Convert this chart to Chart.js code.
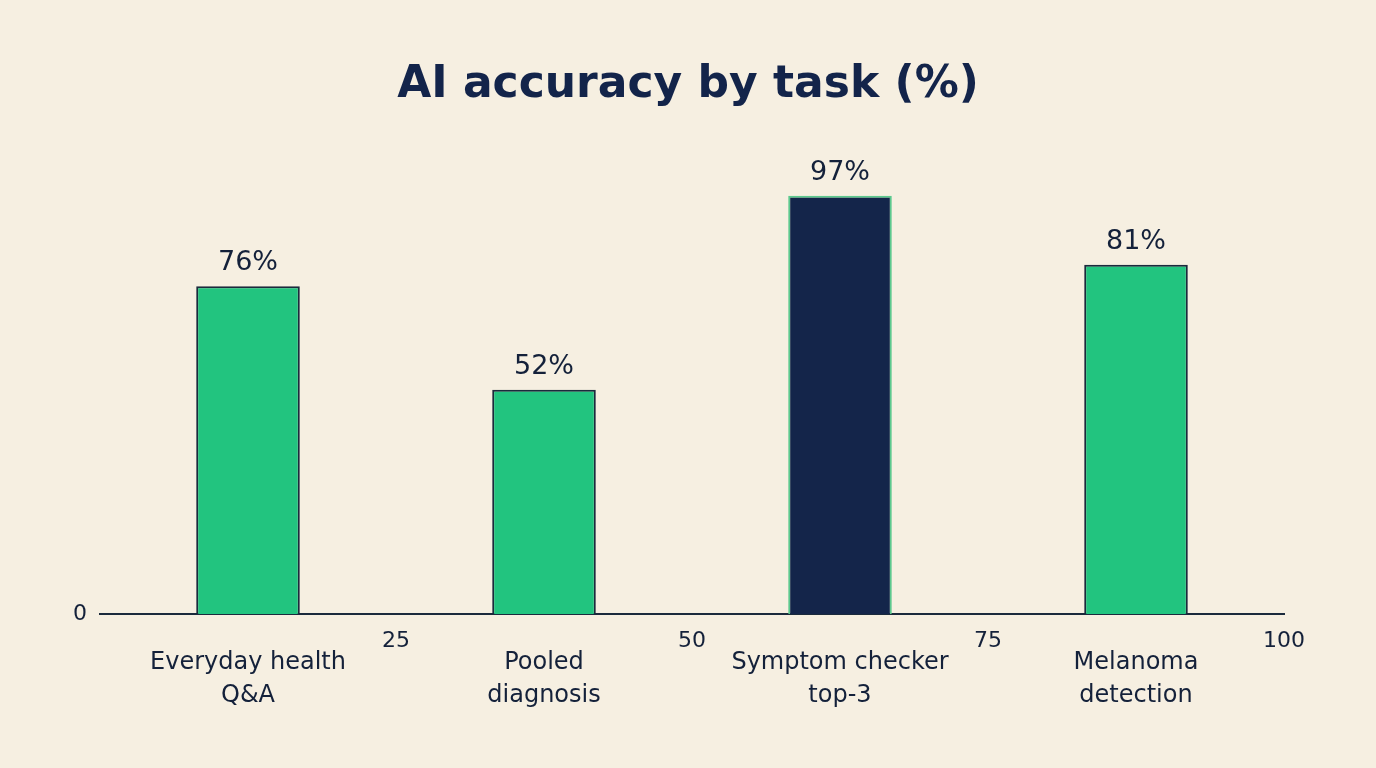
<!DOCTYPE html>
<html>
<head>
<meta charset="utf-8">
<script src="https://cdn.jsdelivr.net/npm/chart.js@4.4.1/dist/chart.umd.min.js"></script>
<style>
  html, body { margin: 0; padding: 0; background: #f6efe1; }
  #wrap { width: 1376px; height: 768px; }
</style>
</head>
<body>
<div id="wrap"><canvas id="chart" width="1376" height="768"></canvas></div>
<script>
const tasks = [
  ['Everyday health', 'Q&A'],
  ['Pooled', 'diagnosis'],
  ['Symptom checker', 'top-3'],
  ['Melanoma', 'detection'],
]
const accuracy = [76, 52, 97, 81]
const scaleTicks = [0, 25, 50, 75, 100]

const navy = '#14254a'
const green = '#22c47f'
const fillColors = [green, green, navy, green]
const edgeColors = ['#1b2a3c', '#1b2a3c', '#5cc98e', '#1b2a3c']
const fontFamily = '"DejaVu Sans", sans-serif'

// percent labels sitting above each bar
const valueLabels = {
  id: 'valueLabels',
  afterDatasetsDraw(chart) {
    const { ctx } = chart
    const meta = chart.getDatasetMeta(0)
    ctx.save()
    ctx.font = '400 27px ' + fontFamily
    ctx.fillStyle = '#14213a'
    ctx.textAlign = 'center'
    ctx.textBaseline = 'middle'
    meta.data.forEach((bar, i) => {
      ctx.fillText(accuracy[i] + '%', bar.x, bar.y - 23)
    })
    ctx.restore()
  },
}

new Chart(document.getElementById('chart'), {
  type: 'bar',
  data: {
    labels: tasks,
    datasets: [{
      data: accuracy,
      backgroundColor: fillColors,
      borderColor: edgeColors,
      borderWidth: 2,
      borderSkipped: 'bottom',
      categoryPercentage: 1,
      barPercentage: 0.35,
      xAxisID: 'x',
      yAxisID: 'y',
    }],
  },
  options: {
    responsive: false,
    animation: false,
    layout: { padding: { left: 60, right: 60, top: 0, bottom: 0 } },
    plugins: {
      legend: { display: false },
      tooltip: { enabled: false },
      title: {
        display: true,
        text: 'AI accuracy by task (%)',
        color: '#13244a',
        font: { family: fontFamily, size: 44, weight: '700', lineHeight: 1.2 },
        padding: { top: 59, bottom: 71 },
      },
    },
    scales: {
      y: {
        min: 0,
        max: 100,
        grid: { display: false, drawTicks: false },
        border: { display: false },
        ticks: {
          stepSize: 100,
          padding: 13,
          color: '#14213a',
          font: { family: fontFamily, size: 22 },
          callback: v => (v === 0 ? '0' : ''),
        },
        afterFit: s => { s.width = 40 },
      },
      // empty right-hand spacer so the title centres on the page
      yRight: {
        position: 'right',
        display: true,
        grid: { display: false, drawTicks: false },
        border: { display: false },
        ticks: { display: false },
        afterFit: s => { s.width = 32 },
      },
      x2: {
        type: 'linear',
        position: 'bottom',
        weight: 0,
        offset: false,
        min: 0,
        max: 100,
        grid: { display: false, drawTicks: false },
        border: { display: true, color: '#1b2a3c', width: 2 },
        afterBuildTicks: s => { s.ticks = scaleTicks.map(v => ({ value: v })) },
        ticks: {
          padding: 14,
          maxRotation: 0,
          color: '#14213a',
          font: { family: fontFamily, size: 22, lineHeight: 1.2 },
          callback: v => (v === 0 ? '' : String(v)),
        },
        afterFit: s => { s.height = 36 },
      },
      x: {
        position: 'bottom',
        weight: 1,
        grid: { display: false, drawTicks: false },
        border: { display: false },
        ticks: {
          padding: -4,
          maxRotation: 0,
          autoSkip: false,
          color: '#14213a',
          font: { family: fontFamily, size: 24, lineHeight: 1.375 },
        },
        afterFit: s => { s.height = 118 },
      },
    },
  },
  plugins: [valueLabels],
})
</script>
</body>
</html>
